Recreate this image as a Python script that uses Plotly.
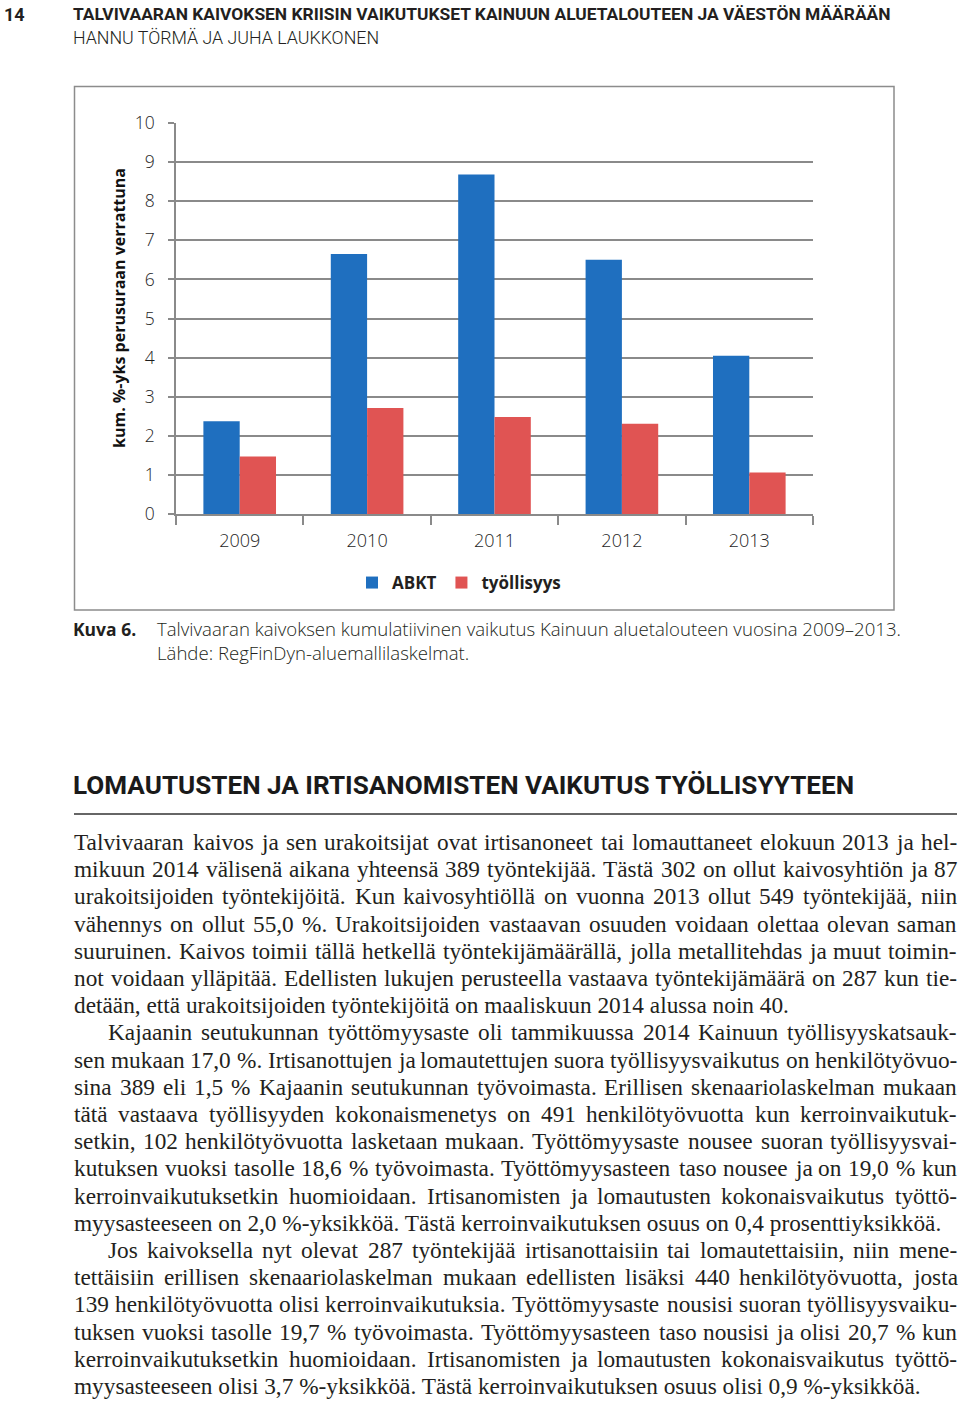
import plotly.graph_objects as go

W, H = 960, 1403

# ---------------- data ----------------
years = ["2009", "2010", "2011", "2012", "2013"]
abkt = [2.37, 6.65, 8.68, 6.50, 4.05]
tyollisyys = [1.47, 2.71, 2.48, 2.31, 1.06]
y_ticks = list(range(0, 11))

series_names = ["ABKT", "työllisyys"]
y_title = "kum. %-yks perusuraan verrattuna"

page_number = "14"
header_title = "TALVIVAARAN KAIVOKSEN KRIISIN VAIKUTUKSET KAINUUN ALUETALOUTEEN JA VÄESTÖN MÄÄRÄÄN"
header_authors = "HANNU TÖRMÄ JA JUHA LAUKKONEN"
caption_label = "Kuva 6."
caption_lines = [
    "Talvivaaran kaivoksen kumulatiivinen vaikutus Kainuun aluetalouteen vuosina 2009–2013.",
    "Lähde: RegFinDyn-aluemallilaskelmat.",
]
section_heading = "LOMAUTUSTEN JA IRTISANOMISTEN VAIKUTUS TYÖLLISYYTEEN"

# (text, indent, justified)
body_lines = [
    ("Talvivaaran kaivos ja sen urakoitsijat ovat irtisanoneet tai lomauttaneet elokuun 2013 ja hel-", False, True),
    ("mikuun 2014 välisenä aikana yhteensä 389 työntekijää. Tästä 302 on ollut kaivosyhtiön ja 87", False, True),
    ("urakoitsijoiden työntekijöitä. Kun kaivosyhtiöllä on vuonna 2013 ollut 549 työntekijää, niin", False, True),
    ("vähennys on ollut 55,0 %. Urakoitsijoiden vastaavan osuuden voidaan olettaa olevan saman", False, True),
    ("suuruinen. Kaivos toimii tällä hetkellä työntekijämäärällä, jolla metallitehdas ja muut toimin-", False, True),
    ("not voidaan ylläpitää. Edellisten lukujen perusteella vastaava työntekijämäärä on 287 kun tie-", False, True),
    ("detään, että urakoitsijoiden työntekijöitä on maaliskuun 2014 alussa noin 40.", False, False),
    ("Kajaanin seutukunnan työttömyysaste oli tammikuussa 2014 Kainuun työllisyyskatsauk-", True, True),
    ("sen mukaan 17,0 %. Irtisanottujen ja lomautettujen suora työllisyysvaikutus on henkilötyövuo-", False, True),
    ("sina 389 eli 1,5 % Kajaanin seutukunnan työvoimasta. Erillisen skenaariolaskelman mukaan", False, True),
    ("tätä vastaava työllisyyden kokonaismenetys on 491 henkilötyövuotta kun kerroinvaikutuk-", False, True),
    ("setkin, 102 henkilötyövuotta lasketaan mukaan. Työttömyysaste nousee suoran työllisyysvai-", False, True),
    ("kutuksen vuoksi tasolle 18,6 % työvoimasta. Työttömyysasteen taso nousee ja on 19,0 % kun", False, True),
    ("kerroinvaikutuksetkin huomioidaan. Irtisanomisten ja lomautusten kokonaisvaikutus työttö-", False, True),
    ("myysasteeseen on 2,0 %-yksikköä. Tästä kerroinvaikutuksen osuus on 0,4 prosenttiyksikköä.", False, False),
    ("Jos kaivoksella nyt olevat 287 työntekijää irtisanottaisiin tai lomautettaisiin, niin mene-", True, True),
    ("tettäisiin erillisen skenaariolaskelman mukaan edellisten lisäksi 440 henkilötyövuotta, josta", False, True),
    ("139 henkilötyövuotta olisi kerroinvaikutuksia. Työttömyysaste nousisi suoran työllisyysvaiku-", False, True),
    ("tuksen vuoksi tasolle 19,7 % työvoimasta. Työttömyysasteen taso nousisi ja olisi 20,7 % kun", False, True),
    ("kerroinvaikutuksetkin huomioidaan. Irtisanomisten ja lomautusten kokonaisvaikutus työttö-", False, True),
    ("myysasteeseen olisi 3,7 %-yksikköä. Tästä kerroinvaikutuksen osuus olisi 0,9 %-yksikköä.", False, False),
]

# ---------------- helpers ----------------
def px(x):
    return x / W

def py(y):
    return 1 - y / H

BLUE = "#1F6FBF"
RED = "#E05453"
GRID = "#8A8A8A"
TXT = "#231F20"
TICK = "#1E1E1E"

SANS = "Open Sans, Lato, sans-serif"
HEAD = "Roboto, Liberation Sans, sans-serif"
SERIF = "Liberation Serif, Times New Roman, serif"

# Times-compatible advance widths (per 1000 em) for justification
TW = {
    " ": 250, "a": 444, "b": 500, "c": 444, "d": 500, "e": 444, "f": 333, "g": 500, "h": 500,
    "i": 278, "j": 278, "k": 500, "l": 278, "m": 778, "n": 500, "o": 500, "p": 500, "q": 500,
    "r": 333, "s": 389, "t": 278, "u": 500, "v": 500, "w": 722, "x": 500, "y": 500, "z": 444,
    "ä": 444, "ö": 500, "å": 444,
    "A": 722, "B": 667, "C": 667, "D": 722, "E": 611, "F": 556, "G": 722, "H": 722, "I": 333,
    "J": 389, "K": 722, "L": 611, "M": 889, "N": 722, "O": 722, "P": 556, "R": 667, "S": 556,
    "T": 611, "U": 722, "V": 722, "W": 944, "Y": 722, "Ä": 722, "Ö": 722,
    ",": 250, ".": 250, "-": 333, "%": 833, ":": 278,
}
for d in "0123456789":
    TW[d] = 500

BODY_FS = 23.3

def word_w(word, fs):
    return sum(TW.get(c, 500) for c in word) * fs / 1000.0

# ---------------- figure ----------------
fig = go.Figure()
fig.add_trace(go.Bar(x=years, y=abkt, name=series_names[0], marker=dict(color=BLUE, line=dict(width=0))))
fig.add_trace(go.Bar(x=years, y=tyollisyys, name=series_names[1], marker=dict(color=RED, line=dict(width=0))))

fig.update_layout(
    width=W, height=H, autosize=False,
    margin=dict(l=0, r=0, t=0, b=0, pad=0, autoexpand=False),
    paper_bgcolor="white", plot_bgcolor="white",
    barmode="group", bargap=0.43, bargroupgap=0.0,
    showlegend=True,
    legend=dict(
        orientation="h", x=px(459), y=py(583), xanchor="center", yanchor="middle",
        font=dict(family=SANS, size=17, color=TXT, weight="bold"),
        itemwidth=30, bgcolor="rgba(0,0,0,0)", traceorder="normal",
    ),
    xaxis=dict(
        domain=[px(176), px(813)],
        showline=True, linecolor=GRID, linewidth=1.5,
        ticks="outside", tickson="boundaries", ticklen=9, tickcolor=GRID, tickwidth=1.5,
        ticklabelstandoff=10,
        tickfont=dict(family=SANS, size=18, color=TICK, weight=300),
        showgrid=False, zeroline=False, fixedrange=True, automargin=False,
    ),
    yaxis=dict(
        domain=[py(514), py(123)],
        range=[0, 10], tickvals=y_ticks, ticktext=[str(v) for v in y_ticks],
        showline=True, linecolor=GRID, linewidth=1.5,
        ticks="outside", ticklen=6, tickcolor=GRID, tickwidth=1.5,
        ticklabelstandoff=10,
        tickfont=dict(family=SANS, size=17.5, color=TICK, weight=300),
        showgrid=True, gridcolor=GRID, gridwidth=1.5,
        zeroline=False, fixedrange=True, automargin=False,
    ),
)

shapes = []
annotations = []

# chart frame
shapes.append(dict(type="rect", xref="paper", yref="paper",
                   x0=px(74.5), x1=px(894), y0=py(610), y1=py(86.5),
                   line=dict(color="#8C8C8C", width=1.5), fillcolor="rgba(0,0,0,0)", layer="below"))
# heading rule
shapes.append(dict(type="line", xref="paper", yref="paper",
                   x0=px(74), x1=px(957), y0=py(814), y1=py(814),
                   line=dict(color="#333333", width=1.5)))

def ann(text, x, y, size, family, color=TXT, weight="normal", xanchor="left", yanchor="middle", angle=0):
    annotations.append(dict(
        text=text, x=px(x), y=py(y), xref="paper", yref="paper",
        xanchor=xanchor, yanchor=yanchor, showarrow=False, textangle=angle,
        borderpad=0, borderwidth=0, align="left",
        font=dict(family=family, size=size, color=color, weight=weight),
    ))

# y axis title
ann(y_title, 119, 308, 16, SANS, color="#111111", weight="bold", xanchor="center", yanchor="middle", angle=-90)

# page header
ann(page_number, 4, 14, 18, HEAD, weight="bold")
ann(header_title, 73, 14, 17.4, HEAD, weight="bold")
ann(header_authors, 73, 37, 17.8, HEAD, weight=300)

# caption
ann(caption_label, 73, 629, 17.5, SANS, weight="bold")
ann("<br>".join(caption_lines), 157, 640.5, 18.6, SANS, weight=300)

# section heading
ann(section_heading, 73, 785, 26.1, HEAD, weight="bold", color="#1a1a1a")

# body text (justified word by word)
LEFT, RIGHT, INDENT = 74.0, 957.0, 108.0
y0, dy = 842.0, 27.2
for i, (line, indent, justify) in enumerate(body_lines):
    yy = y0 + dy * i
    xl = INDENT if indent else LEFT
    if not justify:
        ann(line, xl, yy, BODY_FS, SERIF)
        continue
    words = line.split(" ")
    widths = [word_w(w, BODY_FS) for w in words]
    gap = (RIGHT - xl - sum(widths)) / (len(words) - 1)
    x = xl
    for w, ww in zip(words, widths):
        ann(w, x, yy, BODY_FS, SERIF)
        x += ww + gap

fig.update_layout(shapes=shapes, annotations=annotations)
fig.write_html(
    "out.html",
    config={"displayModeBar": False},
    post_script="document.body.style.margin='0px';document.body.style.overflow='hidden';",
)
